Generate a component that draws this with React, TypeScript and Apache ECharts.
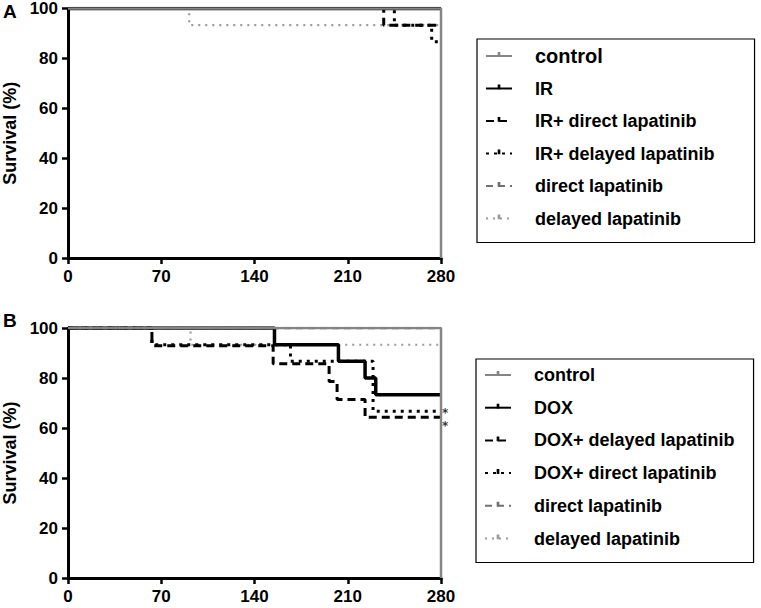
import React, { useEffect, useRef } from "react";
import * as echarts from "echarts";

const FONT = "'Liberation Sans', Arial, sans-serif";

// ---- Axis ticks ----
const xMin = 0;
const xMax = 280;
const xStep = 70;
const yMin = 0;
const yMax = 100;
const yStep = 20;

// ---- Panel A (IR) : [day, survival %] event points ----
const namesA = ["control", "IR", "IR+ direct lapatinib", "IR+ delayed lapatinib", "direct lapatinib", "delayed lapatinib"];
const controlA = [[0, 100], [280, 100], [280, 0]];
const irA = [[0, 100], [280, 100]];
const irDirectA = [[0, 100], [237, 93.3], [280, 93.3]];
const irDelayedA = [[0, 100], [245, 93.3], [273, 86.7], [280, 86.7]];
const directA = [[0, 100], [280, 100]];
const delayedA = [[0, 100], [91, 93.3], [280, 93.3]];

// ---- Panel B (DOX) ----
const namesB = ["control", "DOX", "DOX+ delayed lapatinib", "DOX+ direct lapatinib", "direct lapatinib", "delayed lapatinib"];
const controlB = [[0, 100], [280, 100], [280, 0]];
const doxB = [[0, 100], [155, 93.3], [203, 86.7], [223, 80], [231, 73.3], [280, 73.3]];
const doxDelayedB = [[0, 100], [63, 92.9], [154, 85.7], [196, 78.6], [202, 71.4], [223, 64.3], [280, 64.3]];
const doxDirectB = [[0, 100], [63, 93.3], [167, 86.7], [229, 66.7], [280, 66.7]];
const directB = [[0, 100], [280, 100]];
const delayedB = [[0, 100], [92, 93.3], [280, 93.3]];

// significance markers (two asterisks) at the end of the DOX+lapatinib curves
const starsB = [[280, 66.7]];
const starText = "*\n*";

const styles = [
  { color: "#858585", width: 2.5, type: "solid" },
  { color: "#000000", width: 3.5, type: "solid" },
  { color: "#000000", width: 3, type: [8, 5] },
  { color: "#000000", width: 3, type: [3, 5] },
  { color: "#707070", width: 2.5, type: [7, 5] },
  { color: "#9a9a9a", width: 2.2, type: [2, 5] },
];

// censor tick used as the legend marker (thin upright tick sitting on the line)
const TICK = "path://M1,0 H2 V3 H1 Z M0,5 L3,5 Z";

function mkSeries(name: string, data: number[][], idx: number, styleIdx: number, z: number) {
  const s = styles[styleIdx];
  return {
    type: "line",
    name,
    xAxisIndex: idx,
    yAxisIndex: idx,
    data,
    step: "end",
    symbol: TICK,
    showSymbol: false,
    z,
    lineStyle: { color: s.color, width: s.width, type: s.type },
    itemStyle: { color: s.color },
  };
}

function axisPair(idx: number) {
  return {
    x: {
      type: "value",
      gridIndex: idx,
      min: xMin,
      max: xMax,
      interval: xStep,
      axisLine: { lineStyle: { color: "#000", width: 3 } },
      axisTick: { show: true, length: 6, lineStyle: { color: "#000", width: 2.5 } },
      splitLine: { show: false },
      axisLabel: { color: "#000", fontSize: 17, fontWeight: "bold", fontFamily: FONT, margin: 10 },
    },
    y: {
      type: "value",
      gridIndex: idx,
      min: yMin,
      max: yMax,
      interval: yStep,
      name: "Survival (%)",
      nameLocation: "middle",
      nameRotate: 90,
      nameGap: 49,
      nameTextStyle: { color: "#000", fontSize: 18, fontWeight: "bold", fontFamily: FONT },
      axisLine: { show: true, lineStyle: { color: "#000", width: 3 } },
      axisTick: { show: true, length: 6, lineStyle: { color: "#000", width: 2.5 } },
      splitLine: { show: false },
      axisLabel: { color: "#000", fontSize: 17, fontWeight: "bold", fontFamily: FONT, margin: 10 },
    },
  };
}

export default function App() {
  const ref = useRef<HTMLDivElement>(null);
  useEffect(() => {
    if (!ref.current) return;
    const chart = echarts.init(ref.current, null, { renderer: "svg" });
    const a = axisPair(0);
    const b = axisPair(1);
    const legendText = { color: "#000", fontSize: 18, fontWeight: "bold", fontFamily: FONT, lineHeight: 20, padding: [0, 0, 0, 18] };
    const option: any = {
      animation: false,
      backgroundColor: "#fff",
      grid: [
        { left: 67, top: 8, width: 374, height: 250 },
        { left: 67, top: 328, width: 374, height: 250 },
      ],
      xAxis: [a.x, b.x],
      yAxis: [a.y, b.y],
      legend: [
        {
          orient: "vertical",
          left: 477,
          top: 39,
          data: namesA.map((n, i) => (i === 0 ? { name: n, textStyle: { fontSize: 20 } } : n)),
          itemWidth: 26,
          itemHeight: 10,
          itemGap: 12.5,
          borderColor: "#000",
          borderWidth: 1.2,
          padding: [7, 40, 14, 8],
          selectedMode: false,
          textStyle: legendText,
        },
        {
          orient: "vertical",
          left: 476,
          top: 359,
          data: namesB,
          itemWidth: 26,
          itemHeight: 10,
          itemGap: 12.7,
          borderColor: "#000",
          borderWidth: 1.2,
          padding: [6, 19, 14, 8],
          selectedMode: false,
          textStyle: legendText,
        },
      ],
      graphic: [
        { type: "text", left: 3, top: 2, style: { text: "A", font: `bold 19px ${FONT}`, fill: "#000" } },
        { type: "text", left: 3, top: 311, style: { text: "B", font: `bold 19px ${FONT}`, fill: "#000" } },
      ],
      series: [
        mkSeries(namesA[5], delayedA, 0, 5, 2),
        mkSeries(namesA[4], directA, 0, 4, 3),
        mkSeries(namesA[3], irDelayedA, 0, 3, 4),
        mkSeries(namesA[2], irDirectA, 0, 2, 5),
        mkSeries(namesA[1], irA, 0, 1, 6),
        mkSeries(namesA[0], controlA, 0, 0, 7),
        mkSeries(namesB[5], delayedB, 1, 5, 2),
        mkSeries(namesB[4], directB, 1, 4, 3),
        mkSeries(namesB[3], doxDirectB, 1, 3, 4),
        mkSeries(namesB[2], doxDelayedB, 1, 2, 5),
        mkSeries(namesB[1], doxB, 1, 1, 6),
        mkSeries(namesB[0], controlB, 1, 0, 7),
        {
          type: "scatter",
          xAxisIndex: 1,
          yAxisIndex: 1,
          data: starsB,
          symbolSize: 0,
          silent: true,
          z: 10,
          label: {
            show: true,
            formatter: starText,
            position: "right",
            distance: 1,
            offset: [0, 8],
            color: "#000",
            fontSize: 12,
            lineHeight: 12.5,
            fontWeight: "bold",
            fontFamily: "'DejaVu Sans', sans-serif",
          },
        },
      ],
    };
    chart.setOption(option);
    return () => chart.dispose();
  }, []);
  return <div ref={ref} style={{ position: "absolute", left: 0, top: 0, width: 761, height: 608 }} />;
}
